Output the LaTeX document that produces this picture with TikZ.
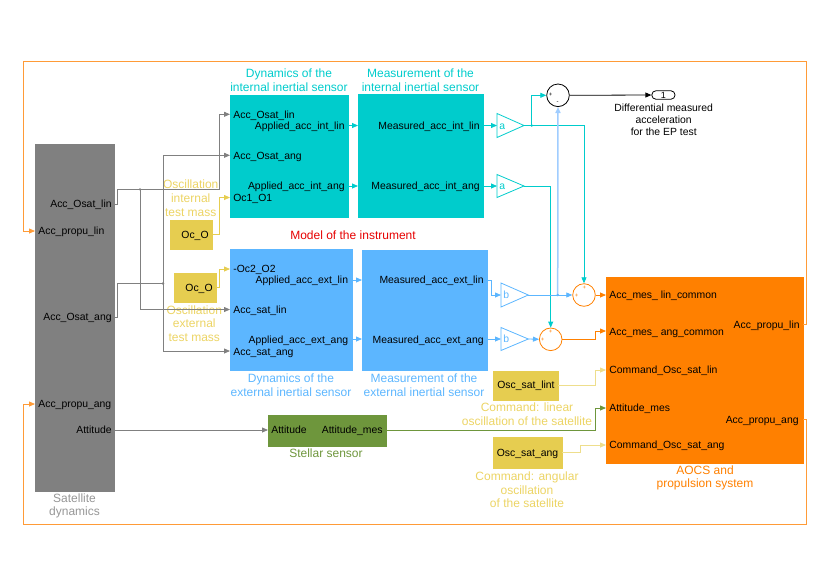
\documentclass[tikz,border=0pt]{standalone}
\usepackage{fontspec}
\setmainfont{Liberation Sans}
\usetikzlibrary{arrows.meta}
\newcommand\pfont{\fontsize{10.4}{12}\selectfont}
\newcommand\tfont{\fontsize{12}{13.6}\selectfont}
\newcommand\sfont{\fontsize{6}{6}\selectfont}
\definecolor{cyanB}{RGB}{0,204,204}
\definecolor{blueB}{RGB}{92,182,255}
\definecolor{lblue}{RGB}{160,205,255}
\definecolor{orangeB}{RGB}{255,128,0}
\definecolor{frameO}{RGB}{255,155,55}
\definecolor{yellowB}{RGB}{230,205,80}
\definecolor{yellowT}{RGB}{236,212,100}
\definecolor{yellowL}{RGB}{238,222,140}
\definecolor{greenB}{RGB}{110,150,60}
\definecolor{grayB}{RGB}{128,128,128}
\definecolor{grayT}{RGB}{150,150,150}
\definecolor{redT}{RGB}{230,0,0}
\begin{document}
\begin{tikzpicture}[x=1pt,y=-1pt,
  >={Triangle[length=6pt,width=5pt]},
  line width=0.8pt,
  blk/.style={draw=#1, fill=#1, anchor=north west, inner sep=0pt, outer sep=0pt},
  port/.style={font=\pfont, inner sep=0pt, text height=7.5pt, text depth=0pt},
  ttl/.style={font=\tfont, align=center, inner sep=0pt, text=#1},
  sig/.style={draw=#1, ->},
  wire/.style={draw=#1},
  sumc/.style={circle, draw=#1, fill=white, minimum size=22.6pt, inner sep=0pt, line width=0.8pt},
  sgn/.style={font=\sfont, inner sep=0pt, text=#1},
  dot/.style={fill=#1}
]
\useasboundingbox (0,0) rectangle (830,587);

% ---------- blocks ----------
\node[blk=grayB, minimum width=79pt, minimum height=347pt] (sat) at (35,144) {};
\node[blk=cyanB, minimum width=118pt, minimum height=122pt] (d1) at (230,95) {};
\node[blk=cyanB, minimum width=125pt, minimum height=123pt] (m1) at (358,94.5) {};
\node[blk=blueB, minimum width=122pt, minimum height=121pt] (d2) at (230,249.5) {};
\node[blk=blueB, minimum width=125pt, minimum height=120pt] (m2) at (362,250) {};
\node[blk=orangeB, minimum width=197pt, minimum height=186pt] (aocs) at (606,277.5) {};
\node[blk=greenB, minimum width=118pt, minimum height=31pt] (ss) at (268,415) {};
\node[blk=yellowB, minimum width=42pt, minimum height=29pt] (oc1) at (170,220) {};
\node[blk=yellowB, minimum width=42pt, minimum height=29pt] (oc2) at (174,273) {};
\node[blk=yellowB, minimum width=65pt, minimum height=29pt] (osl) at (493,371) {};
\node[blk=yellowB, minimum width=69pt, minimum height=31pt] (osa) at (493,437.5) {};

% ---------- port labels ----------
\node[port, anchor=east] (satL1) at (112,204) {Acc\_Osat\_lin};
\node[port, anchor=west] (satL2) at (38,231) {Acc\_propu\_lin};
\node[port, anchor=east] (satL3) at (112,317) {Acc\_Osat\_ang};
\node[port, anchor=west] (satL4) at (38,404) {Acc\_propu\_ang};
\node[port, anchor=east] (satL5) at (112,430) {Attitude};

\node[port, anchor=west] (d1L1) at (233,114.3) {Acc\_Osat\_lin};
\node[port, anchor=east] (d1L2) at (345,125.7) {Applied\_acc\_int\_lin};
\node[port, anchor=west] (d1L3) at (233,155.7) {Acc\_Osat\_ang};
\node[port, anchor=east] (d1L4) at (345,185.7) {Applied\_acc\_int\_ang};
\node[port, anchor=west] (d1L5) at (233,197.7) {Oc1\_O1};

\node[port, anchor=east] (m1L1) at (480,125.7) {Measured\_acc\_int\_lin};
\node[port, anchor=east] (m1L2) at (480,185.7) {Measured\_acc\_int\_ang};

\node[port, anchor=west] (d2L1) at (233,269) {-Oc2\_O2};
\node[port, anchor=east] (d2L2) at (348.5,280) {Applied\_acc\_ext\_lin};
\node[port, anchor=west] (d2L3) at (233,310) {Acc\_sat\_lin};
\node[port, anchor=east] (d2L4) at (348.5,340) {Applied\_acc\_ext\_ang};
\node[port, anchor=west] (d2L5) at (233,351.7) {Acc\_sat\_ang};

\node[port, anchor=east] (m2L1) at (484,280) {Measured\_acc\_ext\_lin};
\node[port, anchor=east] (m2L2) at (484,340) {Measured\_acc\_ext\_ang};

\node[port, anchor=west] (aL1) at (609,294.7) {Acc\_mes\_ lin\_common};
\node[port, anchor=west] (aL2) at (609,332) {Acc\_mes\_ ang\_common};
\node[port, anchor=west] (aL3) at (609,370) {Command\_Osc\_sat\_lin};
\node[port, anchor=west] (aL4) at (609,407.7) {Attitude\_mes};
\node[port, anchor=west] (aL5) at (609,445) {Command\_Osc\_sat\_ang};
\node[port, anchor=east] (aL6) at (800,324.3) {Acc\_propu\_lin};
\node[port, anchor=east] (aL7) at (799,419.3) {Acc\_propu\_ang};

\node[port, anchor=west] (ssL1) at (271,430) {Attitude};
\node[port, anchor=east] (ssL2) at (383,430) {Attitude\_mes};

\node[port, anchor=east] (oc1L) at (209,234.3) {Oc\_O};
\node[port, anchor=east] (oc2L) at (213,287.3) {Oc\_O};
\node[port] (oslL) at (526,385) {Osc\_sat\_lint};
\node[port] (osaL) at (527.5,452.7) {Osc\_sat\_ang};

% ---------- titles ----------
\node[ttl=cyanB] (tD1) at (289,80.3) {Dynamics of the\\internal inertial sensor};
\node[ttl=cyanB] (tM1) at (420.5,80.3) {Measurement of the\\internal inertial sensor};
\node[ttl=blueB] (tD2) at (291,385.3) {Dynamics of the\\external inertial sensor};
\node[ttl=blueB] (tM2) at (424,385.3) {Measurement of the\\external inertial sensor};
\node[ttl=greenB] (tSS) at (326,453.3) {Stellar sensor};
\node[ttl=grayT] (tSat) at (74.5,505.8) {Satellite\\dynamics};
\node[ttl=orangeB] (tA) at (705,478) {AOCS and\\propulsion system};
\node[ttl=yellowT] (tOc1) at (190.7,198.3) {Oscillation\\internal\\test mass};
\node[ttl=yellowT] (tOc2) at (194.3,323.7) {Oscillation\\external\\test mass};
\node[ttl=yellowT] (tOsl) at (527,414.3) {Command: linear\\oscillation of the satellite};
\node[ttl=yellowT] (tOsa) at (527,490) {Command: angular\\oscillation\\of the satellite};
\node[ttl=redT] (tModel) at (353,235) {Model of the instrument};
\node[font=\pfont, align=center, inner sep=0pt] (tOut) at (663.7,120.2) {Differential measured\\acceleration\\for the EP test};

% ---------- gains ----------
\draw[cyanB] (497,113.5) -- (524,125.5) -- (497,137.5) -- cycle;
\draw[cyanB] (497,174.5) -- (524,186) -- (497,197.5) -- cycle;
\draw[blueB] (501,283) -- (528.3,295) -- (501,307) -- cycle;
\draw[blueB] (501,327.5) -- (528.3,339) -- (501,350.5) -- cycle;
\node[port, anchor=west, text=cyanB] (ga1) at (499,125.5) {a};
\node[port, anchor=west, text=cyanB] (ga2) at (499,186) {a};
\node[port, anchor=west, text=blueB] (gb1) at (503,295) {b};
\node[port, anchor=west, text=blueB] (gb2) at (503,339) {b};

% ---------- sums ----------
\node[sumc=black] (sumT) at (558,95.3) {};
\node[sumc=orangeB] (sum1) at (584,295) {};
\node[sumc=orangeB] (sum2) at (550.7,339.3) {};
\node[sgn=black] (sTp) at (550.7,95) {+};
\node[sgn=black] (sTm) at (557.7,102.5) {-};
\node[sgn=orangeB] (s1a) at (584.3,287.5) {+};
\node[sgn=orangeB] (s1b) at (576.7,295.5) {+};
\node[sgn=orangeB] (s2a) at (550.7,332) {+};
\node[sgn=orangeB] (s2b) at (542.7,340) {+};

\node[draw, rounded corners=4.3pt, minimum width=23.3pt, minimum height=8.6pt, inner sep=0pt, font=\fontsize{9}{9}\selectfont] (out1) at (663.4,95) {1};

% ---------- port coordinates ----------
\coordinate (pSatOlin) at (114,204);
\coordinate (pSatPlin) at (35,231);
\coordinate (pSatOang) at (114,317);
\coordinate (pSatPang) at (35,404);
\coordinate (pSatAtt) at (114,430);
\coordinate (pD1a) at (230,114.3);
\coordinate (pD1b) at (230,155.3);
\coordinate (pD1c) at (230,197.5);
\coordinate (pD1o1) at (348,125.5);
\coordinate (pD1o2) at (348,186);
\coordinate (pM1i1) at (358,125.5);
\coordinate (pM1i2) at (358,186);
\coordinate (pM1o1) at (483,125.5);
\coordinate (pM1o2) at (483,186);
\coordinate (pG1i) at (497,125.5);
\coordinate (pG1o) at (524,125.5);
\coordinate (pG2i) at (497,186);
\coordinate (pG2o) at (524,186);
\coordinate (pD2a) at (230,269);
\coordinate (pD2b) at (230,309.5);
\coordinate (pD2c) at (230,351);
\coordinate (pD2o1) at (352,280);
\coordinate (pD2o2) at (352,339);
\coordinate (pM2i1) at (362,280);
\coordinate (pM2i2) at (362,339);
\coordinate (pM2o1) at (487,280);
\coordinate (pM2o2) at (487,339);
\coordinate (pGb1i) at (501,295);
\coordinate (pGb1o) at (528.3,295);
\coordinate (pGb2i) at (501,339);
\coordinate (pGb2o) at (528.3,339);
\coordinate (pA1) at (606,295);
\coordinate (pA2) at (606,331);
\coordinate (pA3) at (606,370);
\coordinate (pA4) at (606,408);
\coordinate (pA5) at (606,445);
\coordinate (pAo1) at (803,324.3);
\coordinate (pAo2) at (803,419.3);
\coordinate (pSsIn) at (268,430);
\coordinate (pSsOut) at (386,430);
\coordinate (j1) at (140,189.3);
\coordinate (j2) at (163,283.5);
\coordinate (j3) at (531.7,125.5);
\coordinate (j4) at (557.7,295);

% ---------- gray wires ----------
\draw[sig=grayB] (pSatOlin) -- ++(3.5,0) |- (j1) -- (219.3,189.3) |- (pD1a);
\draw[sig=grayB] (j1) |- (pD2b);
\draw[wire=grayB] (pSatOang) -- ++(3.5,0) |- (j2);
\draw[sig=grayB] (j2) |- (pD1b);
\draw[sig=grayB] (j2) |- (pD2c);
\draw[sig=grayB] (pSatAtt) -- (pSsIn);
\fill[grayB] (j1) circle (1.3);
\fill[grayB] (j2) circle (1.3);

% ---------- yellow wires ----------
\draw[sig=yellowB] (oc1.east |- oc1L) -- (219.3,234.3) |- (pD1c);
\draw[sig=yellowB] (oc2.east |- oc2L) -- (219.3,287.3) |- (pD2a);
\draw[sig=yellowL] (osl.east |- oslL) -- (595,385) |- (pA3);
\draw[sig=yellowL] (osa.east |- osaL) -- (580,452.7) |- (pA5);

% ---------- cyan wires ----------
\draw[sig=cyanB] (pD1o1) -- (pM1i1);
\draw[sig=cyanB] (pD1o2) -- (pM1i2);
\draw[sig=cyanB] (pM1o1) -- (pG1i);
\draw[sig=cyanB] (pM1o2) -- (pG2i);
\draw[wire=cyanB] (pG1o) -- (j3);
\draw[sig=cyanB] (j3) |- (sumT.west);
\draw[sig=cyanB] (j3) -| (sum1.north);
\draw[sig=cyanB] (pG2o) -| (sum2.north);
\fill[cyanB] (j3) circle (1.3);

% ---------- blue wires ----------
\draw[sig=blueB] (pD2o1) -- (pM2i1);
\draw[sig=blueB] (pD2o2) -- (pM2i2);
\draw[sig=blueB] (pM2o1) -- (491,280) |- (pGb1i);
\draw[sig=blueB] (pM2o2) -- (pGb2i);
\draw[sig=blueB] (pGb1o) -- (sum1.west);
\draw[sig=blueB] (pGb2o) -- (sum2.west);
\draw[sig=lblue, line width=1.5pt] (j4) -- (sumT.south);
\fill[blueB] (j4) circle (1.3);

% ---------- orange wires ----------
\draw[sig=orangeB] (sum1.east) -- (pA1);
\draw[sig=orangeB] (sum2.east) -- (595.7,339.3) |- (pA2);
\draw[sig=frameO] (pAo1) -- (806,324.3) -- (806,61) -- (23,61) |- (pSatPlin);
\draw[sig=frameO] (pAo2) -- (806,419.3) -- (806,524) -- (23,524) |- (pSatPang);

% ---------- green wire ----------
\draw[sig=greenB] (pSsOut) -- (595.7,430) |- (pA4);

% ---------- output ----------
\draw[sig=black] (sumT.east) -- (out1.west);
\end{tikzpicture}
\end{document}
